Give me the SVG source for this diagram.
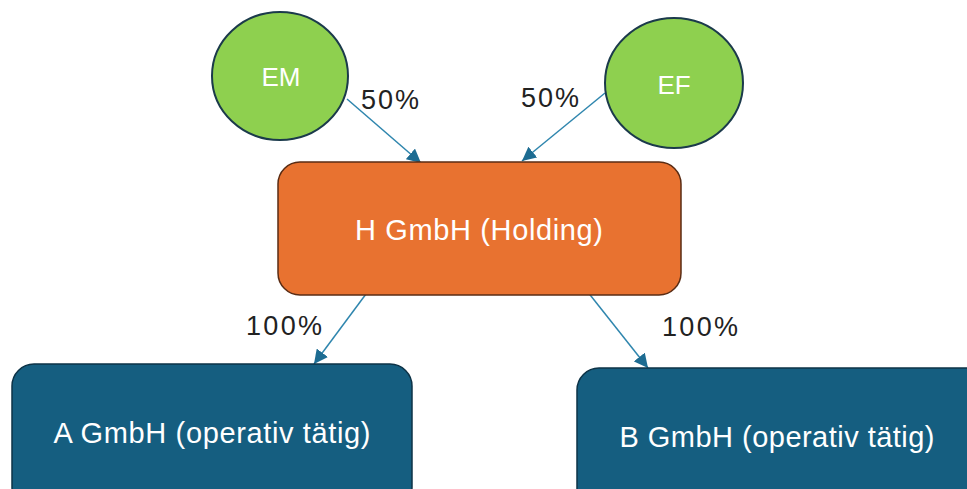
<svg xmlns="http://www.w3.org/2000/svg" width="967" height="489" viewBox="0 0 967 489">
<style>
.circ{fill:#8ED04F;stroke:#1B3A4B;stroke-width:2}
.hold{fill:#E87230;stroke:#5A2C14;stroke-width:1.5}
.op{fill:#155E80;stroke:#0D3347;stroke-width:1.5}
.wt{font-family:"Liberation Sans","Open Sans",sans-serif;fill:#FFFFFF;text-anchor:middle;dominant-baseline:central}
.lbl{font-family:"Liberation Sans","Open Sans",sans-serif;fill:#222222;font-size:27px}
.con{stroke:#2F86AE;stroke-width:1.5;fill:none;marker-end:url(#ah)}
</style>
<defs>
<marker id="ah" viewBox="0 0 10 10" refX="10" refY="5" markerWidth="14" markerHeight="14" markerUnits="userSpaceOnUse" orient="auto">
<path d="M0,0 L10,5 L0,10 z" fill="#1D6C92"/>
</marker>
</defs>
<rect width="967" height="489" fill="#FFFFFF"/>
<g id="connectors">
<line class="con" x1="347" y1="99" x2="421" y2="163"/>
<line class="con" x1="605" y1="93" x2="522" y2="161"/>
<line class="con" x1="366" y1="294" x2="314" y2="364"/>
<line class="con" x1="587" y1="291" x2="648" y2="368"/>
<text class="lbl" x="361" y="109" textLength="58">50%</text>
<text class="lbl" x="521" y="107" textLength="58">50%</text>
<text class="lbl" x="246" y="335" textLength="76">100%</text>
<text class="lbl" x="662" y="336" textLength="76">100%</text>
</g>
<g id="node-em">
<ellipse class="circ" cx="280" cy="76" rx="68" ry="64"/>
<text class="wt" x="281" y="77" font-size="26">EM</text>
</g>
<g id="node-ef">
<ellipse class="circ" cx="674" cy="83" rx="69" ry="65"/>
<text class="wt" x="674" y="85" font-size="26">EF</text>
</g>
<g id="node-h">
<rect class="hold" x="278" y="162" width="403" height="133" rx="22"/>
<text class="wt" x="479" y="230" font-size="29" textLength="248">H GmbH (Holding)</text>
</g>
<g id="node-a">
<rect class="op" x="12" y="364" width="400" height="145" rx="22"/>
<text class="wt" x="212" y="433" font-size="29" textLength="317">A GmbH (operativ tätig)</text>
</g>
<g id="node-b">
<rect class="op" x="577" y="368" width="410" height="145" rx="22"/>
<text class="wt" x="777" y="437" font-size="29" textLength="315">B GmbH (operativ tätig)</text>
</g>
</svg>
